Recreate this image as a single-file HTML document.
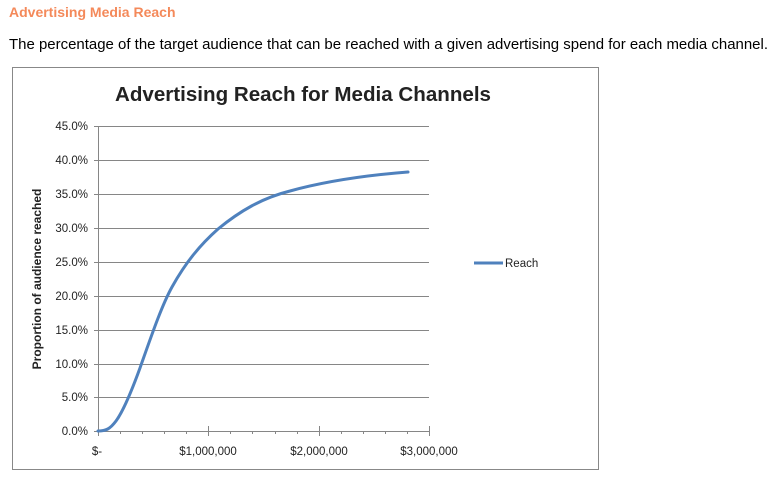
<!DOCTYPE html>
<html><head><meta charset="utf-8"><style>
body{margin:0;background:#fff;width:777px;height:486px;overflow:hidden;font-family:"Liberation Sans",sans-serif}
</style></head><body>
<svg width="777" height="486" xmlns="http://www.w3.org/2000/svg" font-family="Liberation Sans, sans-serif">
<text x="9" y="17" font-size="14" font-weight="bold" fill="#f4895a">Advertising Media Reach</text>
<text x="9" y="49" font-size="15" fill="#000" textLength="759" lengthAdjust="spacingAndGlyphs">The percentage of the target audience that can be reached with a given advertising spend for each media channel.</text>
<rect x="12.5" y="67.5" width="586" height="402" fill="#fff" stroke="#888" stroke-width="1"/>
<text x="303" y="101" font-size="20" font-weight="bold" text-anchor="middle" fill="#222" textLength="376" lengthAdjust="spacingAndGlyphs">Advertising Reach for Media Channels</text>
<g stroke="#868686" stroke-width="1">
<line x1="98" y1="126.5" x2="429" y2="126.5"/><line x1="98" y1="160.5" x2="429" y2="160.5"/>
<line x1="98" y1="194.5" x2="429" y2="194.5"/><line x1="98" y1="228.5" x2="429" y2="228.5"/>
<line x1="98" y1="262.5" x2="429" y2="262.5"/><line x1="98" y1="296.5" x2="429" y2="296.5"/>
<line x1="98" y1="330.5" x2="429" y2="330.5"/><line x1="98" y1="364.5" x2="429" y2="364.5"/>
<line x1="98" y1="397.5" x2="429" y2="397.5"/><line x1="98" y1="431.5" x2="429" y2="431.5"/>
<line x1="98.5" y1="126" x2="98.5" y2="436"/>
<line x1="94" y1="126.5" x2="98" y2="126.5"/><line x1="94" y1="160.5" x2="98" y2="160.5"/><line x1="94" y1="194.5" x2="98" y2="194.5"/><line x1="94" y1="228.5" x2="98" y2="228.5"/><line x1="94" y1="262.5" x2="98" y2="262.5"/><line x1="94" y1="296.5" x2="98" y2="296.5"/><line x1="94" y1="330.5" x2="98" y2="330.5"/><line x1="94" y1="364.5" x2="98" y2="364.5"/><line x1="94" y1="397.5" x2="98" y2="397.5"/><line x1="94" y1="431.5" x2="98" y2="431.5"/>
<line x1="208.5" y1="426" x2="208.5" y2="436"/><line x1="319.5" y1="426" x2="319.5" y2="436"/><line x1="429.5" y1="426" x2="429.5" y2="436"/>
<g><line x1="120.5" y1="431" x2="120.5" y2="434"/><line x1="142.5" y1="431" x2="142.5" y2="434"/><line x1="164.5" y1="431" x2="164.5" y2="434"/><line x1="186.5" y1="431" x2="186.5" y2="434"/>
<line x1="230.5" y1="431" x2="230.5" y2="434"/><line x1="252.5" y1="431" x2="252.5" y2="434"/><line x1="275.5" y1="431" x2="275.5" y2="434"/><line x1="297.5" y1="431" x2="297.5" y2="434"/>
<line x1="341.5" y1="431" x2="341.5" y2="434"/><line x1="363.5" y1="431" x2="363.5" y2="434"/><line x1="385.5" y1="431" x2="385.5" y2="434"/><line x1="407.5" y1="431" x2="407.5" y2="434"/></g>
</g>
<g font-size="11.5" fill="#222" text-anchor="end">
<text x="88" y="130">45.0%</text><text x="88" y="164">40.0%</text><text x="88" y="198">35.0%</text><text x="88" y="232">30.0%</text><text x="88" y="266">25.0%</text><text x="88" y="300">20.0%</text><text x="88" y="334">15.0%</text><text x="88" y="368">10.0%</text><text x="88" y="401">5.0%</text><text x="88" y="435">0.0%</text>
</g>
<g font-size="11.5" fill="#222" text-anchor="middle">
<text x="97" y="455">$-</text><text x="208" y="455">$1,000,000</text><text x="319" y="455">$2,000,000</text><text x="429" y="455">$3,000,000</text>
</g>
<text transform="translate(41,279) rotate(-90)" font-size="12" font-weight="bold" fill="#222" text-anchor="middle">Proportion of audience reached</text>
<path fill="none" stroke="#4f81bd" stroke-width="3" stroke-linecap="round"
d="M98,431 C106,431 110,429 116,421 C124,410 132,390 140,368 C152,334 162,305 172,287 C186,262 200,245 218,229 C240,211 262,198 290,191 C330,180 370,175 408,172"/>
<line x1="474" y1="263" x2="503" y2="263" stroke="#4f81bd" stroke-width="3"/>
<text x="505" y="267" font-size="11.5" fill="#222">Reach</text>
</svg>
</body></html>
